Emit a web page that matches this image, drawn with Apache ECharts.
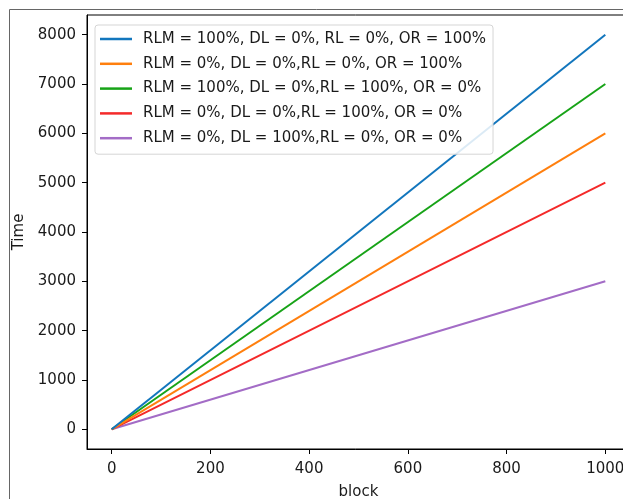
<!DOCTYPE html>
<html>
<head>
<meta charset="utf-8">
<script src="https://cdn.jsdelivr.net/npm/echarts@6/dist/echarts.min.js"></script>
<style>html,body{margin:0;padding:0;background:#fff;}#c{width:623px;height:499px;}</style>
</head>
<body>
<div id="c"></div>
<script>
const seriesNames = [
  'RLM = 100%, DL = 0%, RL = 0%, OR = 100%',
  'RLM = 0%, DL = 0%,RL = 0%, OR = 100%',
  'RLM = 100%, DL = 0%,RL = 100%, OR = 0%',
  'RLM = 0%, DL = 0%,RL = 100%, OR = 0%',
  'RLM = 0%, DL = 100%,RL = 0%, OR = 0%'
];
const blocks = [0, 1000];
const timeBlue = [0, 8000];
const timeOrange = [0, 6000];
const timeGreen = [0, 7000];
const timeRed = [0, 5000];
const timePurple = [0, 3000];
const xTicks = [0, 200, 400, 600, 800, 1000];
const yTicks = [0, 1000, 2000, 3000, 4000, 5000, 6000, 7000, 8000];
const colors = ['#1276bd', '#ff7f0e', '#17a317', '#f42a2a', '#a36cc6'];
const allValues = [timeBlue, timeOrange, timeGreen, timeRed, timePurple];

const FONT = 'DejaVu Sans';
const chart = echarts.init(document.getElementById('c'), null, {renderer: 'canvas'});
chart.setOption({
  animation: false,
  backgroundColor: '#fff',
  textStyle: {fontFamily: FONT},
  graphic: [{
    type: 'rect', silent: true, z: -10,
    shape: {x: 9.5, y: 9.5, width: 800, height: 700},
    style: {fill: 'none', stroke: '#666', lineWidth: 1}
  }],
  grid: {left: 87, top: 15, width: 543, height: 434, show: true, borderColor: '#000', borderWidth: 1,
         containLabel: false, outerBoundsMode: 'none'},
  legend: {
    left: 95, top: 25, orient: 'vertical',
    data: seriesNames,
    icon: 'rect', itemWidth: 32, itemHeight: 2.5, itemGap: 8.8,
    padding: [6, 7, 8, 5],
    borderColor: '#d5d5d5', borderWidth: 1, borderRadius: 3,
    backgroundColor: 'rgba(255,255,255,0.85)',
    textStyle: {fontFamily: FONT, fontSize: 15, color: '#1a1a1a', lineHeight: 16, padding: [0, 0, 0, 6]},
    z: 10
  },
  xAxis: {
    type: 'value', min: -50, max: 1050,
    name: 'block', nameLocation: 'middle', nameGap: 36,
    nameTextStyle: {fontFamily: FONT, fontSize: 15, color: '#1a1a1a'},
    axisLine: {show: true, onZero: false, lineStyle: {color: '#000', width: 1}},
    axisTick: {show: true, length: 5, customValues: xTicks, lineStyle: {color: '#000'}},
    axisLabel: {customValues: xTicks, margin: 13, fontFamily: FONT, fontSize: 15, color: '#1a1a1a',
                formatter: v => String(v)},
    splitLine: {show: false}
  },
  yAxis: {
    type: 'value', min: -400, max: 8400,
    name: 'Time', nameLocation: 'middle', nameGap: 51, nameRotate: 90,
    nameTextStyle: {fontFamily: FONT, fontSize: 15, color: '#1a1a1a'},
    axisLine: {show: true, onZero: false, lineStyle: {color: '#000', width: 1}},
    axisTick: {show: true, length: 5, customValues: yTicks, lineStyle: {color: '#000'}},
    axisLabel: {customValues: yTicks, margin: 11, fontFamily: FONT, fontSize: 15, color: '#1a1a1a',
                formatter: v => String(v)},
    splitLine: {show: false}
  },
  series: seriesNames.map((n, i) => ({
    name: n, type: 'line',
    data: blocks.map((b, j) => [b, allValues[i][j]]),
    showSymbol: false, symbol: 'none',
    lineStyle: {color: colors[i], width: 2},
    itemStyle: {color: colors[i]},
    z: 2 + (4 - i)
  }))
});
</script>
</body>
</html>
